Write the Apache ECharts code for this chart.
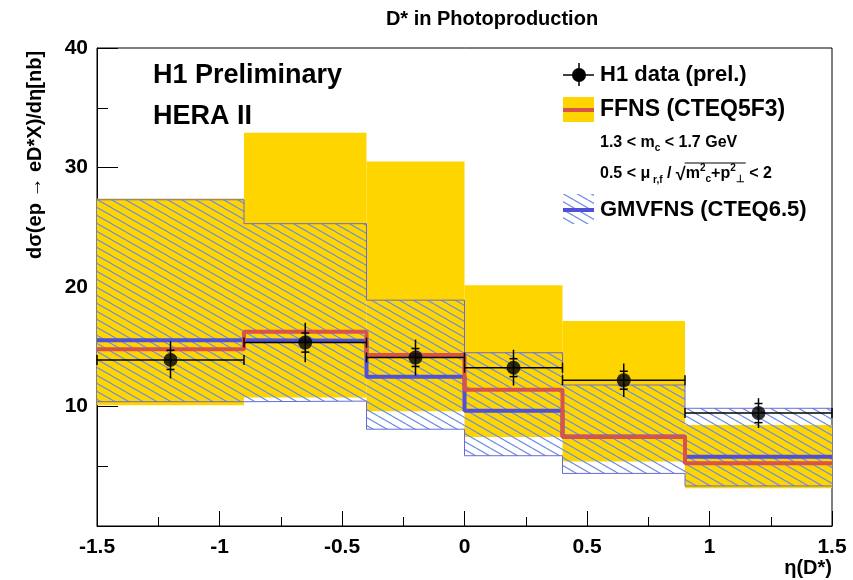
<!DOCTYPE html>
<html><head><meta charset="utf-8">
<script src="https://cdn.jsdelivr.net/npm/echarts@6/dist/echarts.min.js"></script>
<style>html,body{margin:0;padding:0;background:#fff}#c{width:853px;height:580px}</style>
</head><body><div id="c"></div>
<script>
// ---- data ----
const binEdges = [-1.5, -0.9, -0.4, 0, 0.4, 0.9, 1.5];
const dataX = [-1.2, -0.65, -0.2, 0.2, 0.65, 1.2];
const dataY = [13.9, 15.35, 14.1, 13.25, 12.2, 9.45];
const dataErrTot = [1.55, 1.65, 1.5, 1.5, 1.4, 1.25];
const dataErrStat = [0.8, 0.8, 0.75, 0.75, 0.75, 0.8];
const ffnsLo = [10.1, 10.75, 9.6, 7.45, 5.4, 3.15];
const ffnsHi = [27.4, 32.9, 30.5, 20.15, 17.15, 8.45];
const ffnsCentral = [14.8, 16.25, 14.3, 11.4, 7.45, 5.25];
const gmLo = [10.4, 10.45, 8.1, 5.88, 4.4, 3.35];
const gmHi = [27.3, 25.3, 18.9, 14.5, 11.8, 9.85];
const gmCentral = [15.55, 15.5, 12.5, 9.65, 7.5, 5.8];
const xTicks = [-1.5, -1, -0.5, 0, 0.5, 1, 1.5];
const yTicks = [10, 20, 30, 40];

// ---- styles ----
const YELLOW = '#ffd500';
const RED = '#d9534a';
const BLUE = '#5050d8';
const HATCH = '#6f8fe2';
const FONT = '"Liberation Sans", Arial, sans-serif';

function hatchCanvas() {
  const W = 14, H = 8;
  const c = document.createElement('canvas');
  c.width = W; c.height = H;
  const g = c.getContext('2d');
  g.strokeStyle = HATCH; g.lineWidth = 1.2;
  for (let k = -1; k <= 1; k++) {
    g.beginPath(); g.moveTo(0, k * H); g.lineTo(W, k * H + H); g.stroke();
  }
  return c;
}
const hatchFill = { image: hatchCanvas(), repeat: 'repeat' };

function stepData(vals) {
  return binEdges.map((e, i) => [e, vals[Math.min(i, vals.length - 1)]]);
}
function bandSeries(lo, hi, style, z) {
  return {
    type: 'custom', z: z, silent: true,
    data: lo.map((v, i) => [binEdges[i], binEdges[i + 1], v, hi[i]]),
    encode: { x: [0, 1], y: [2, 3] },
    renderItem(params, api) {
      const p0 = api.coord([api.value(0), api.value(3)]);
      const p1 = api.coord([api.value(1), api.value(2)]);
      return { type: 'rect', shape: { x: p0[0], y: p0[1], width: p1[0] - p0[0], height: p1[1] - p0[1] }, style: style };
    }
  };
}
function stepLine(vals, color, width, z) {
  return { type: 'line', step: 'end', data: stepData(vals), symbol: 'none', z: z, silent: true,
    lineStyle: { color: color, width: width }, animation: false };
}

// measured text runs for legend formulas
const mctx = document.createElement('canvas').getContext('2d');
function runs(x0, y, parts) {
  let x = x0; const els = []; const pos = [];
  for (const [t, s, dy] of parts) {
    const f = `bold ${s}px ${FONT}`;
    mctx.font = f;
    const w = mctx.measureText(t).width;
    els.push({ type: 'text', x: x, y: y + dy, style: { text: t, font: f, fill: '#000', verticalAlign: 'middle' } });
    pos.push([x, x + w]);
    x += w;
  }
  return { els, pos };
}

const line3 = runs(600, 143, [['1.3 < m', 16, 0], ['c', 10, 5], [' < 1.7 GeV', 16, 0]]);
const line4 = runs(600, 174, [['0.5 < μ', 16, 0], [' r,f', 10, 6], [' / ', 16, 0], ['√', 18, 1],
  ['m', 16, 0], ['2', 10, -6], ['c', 10, 5], ['+p', 16, 0], ['2', 10, -6], ['⊥', 10, 5], [' < 2', 16, 0]]);
const sqrtStart = line4.pos[3][1] - 1, sqrtEnd = line4.pos[9][1] + 1;

const chart = echarts.init(document.getElementById('c'), null, { renderer: 'canvas' });
chart.setOption({
  animation: false,
  backgroundColor: '#fff',
  grid: { left: 97, right: 21, top: 48, bottom: 54, show: true, borderColor: '#000', borderWidth: 1, backgroundColor: 'transparent' },
  xAxis: {
    type: 'value', min: -1.5, max: 1.5, interval: 0.5,
    axisLine: { show: true, onZero: false, lineStyle: { color: '#000', width: 1 } },
    axisTick: { show: true, inside: true, length: 15, lineStyle: { color: '#000' } },
    minorTick: { show: true, splitNumber: 2, length: 9, lineStyle: { color: '#000' } },
    splitLine: { show: false },
    axisLabel: { color: '#000', fontFamily: FONT, fontWeight: 'bold', fontSize: 21, margin: 11,
      formatter: v => xTicks.indexOf(v) >= 0 ? String(v) : '' }
  },
  yAxis: {
    type: 'value', min: 0, max: 40, interval: 10,
    axisLine: { show: true, onZero: false, lineStyle: { color: '#000', width: 1 } },
    axisTick: { show: true, inside: true, length: 21, lineStyle: { color: '#000' } },
    minorTick: { show: true, splitNumber: 2, length: 11, lineStyle: { color: '#000' } },
    splitLine: { show: false },
    axisLabel: { color: '#000', fontFamily: FONT, fontWeight: 'bold', fontSize: 21, margin: 9,
      formatter: v => yTicks.indexOf(v) >= 0 ? String(v) : '' }
  },
  series: [
    bandSeries(ffnsLo, ffnsHi, { fill: YELLOW }, 1),
    bandSeries(gmLo, gmHi, { fill: hatchFill }, 2),
    stepLine(gmHi, '#6a6ad8', 1, 3),
    stepLine(gmLo, '#6a6ad8', 1, 3),
    stepLine(gmCentral, BLUE, 4, 4),
    stepLine(ffnsCentral, RED, 4, 5),
    {
      type: 'custom', z: 6, silent: true,
      data: dataX.map((x, i) => [x, dataY[i], dataErrTot[i], dataErrStat[i], binEdges[i], binEdges[i + 1]]),
      encode: { x: 0, y: 1 },
      renderItem(params, api) {
        const x = api.value(0), y = api.value(1), et = api.value(2), es = api.value(3);
        const c = api.coord([x, y]);
        const top = api.coord([x, y + et]), bot = api.coord([x, y - et]);
        const st = api.coord([x, y + es]), sb = api.coord([x, y - es]);
        const l = api.coord([api.value(4), y]), r = api.coord([api.value(5), y]);
        const ls = { stroke: '#000', lineWidth: 1.5 };
        return { type: 'group', children: [
          { type: 'line', shape: { x1: c[0], y1: top[1], x2: c[0], y2: bot[1] }, style: ls },
          { type: 'line', shape: { x1: c[0] - 4, y1: st[1], x2: c[0] + 4, y2: st[1] }, style: ls },
          { type: 'line', shape: { x1: c[0] - 4, y1: sb[1], x2: c[0] + 4, y2: sb[1] }, style: ls },
          { type: 'line', shape: { x1: l[0], y1: c[1], x2: r[0], y2: c[1] }, style: ls },
          { type: 'line', shape: { x1: l[0], y1: c[1] - 5, x2: l[0], y2: c[1] + 5 }, style: ls },
          { type: 'line', shape: { x1: r[0], y1: c[1] - 5, x2: r[0], y2: c[1] + 5 }, style: ls }
        ]};
      }
    },
    { type: 'scatter', z: 7, silent: true, data: dataX.map((x, i) => [x, dataY[i]]),
      symbol: 'circle', symbolSize: 14, itemStyle: { color: '#000' } }
  ],
  graphic: [
    { type: 'text', x: 492, y: 19, style: { text: 'D* in Photoproduction', font: `bold 20px ${FONT}`, fill: '#000', align: 'center', verticalAlign: 'middle' } },
    { type: 'text', x: 153, y: 76, style: { text: 'H1 Preliminary', font: `bold 27px ${FONT}`, fill: '#000', verticalAlign: 'middle' } },
    { type: 'text', x: 153, y: 117, style: { text: 'HERA II', font: `bold 27px ${FONT}`, fill: '#000', verticalAlign: 'middle' } },
    { type: 'text', x: 35, y: 155, rotation: Math.PI / 2, style: { text: 'dσ(ep → eD*X)/dη[nb]', font: `bold 20px ${FONT}`, fill: '#000', align: 'center', verticalAlign: 'middle' } },
    { type: 'text', x: 832, y: 568, style: { text: 'η(D*)', font: `bold 20px ${FONT}`, fill: '#000', align: 'right', verticalAlign: 'middle' } },
    // legend: data
    { type: 'line', shape: { x1: 563, y1: 75, x2: 594, y2: 75 }, style: { stroke: '#000', lineWidth: 1.5 } },
    { type: 'line', shape: { x1: 579, y1: 63, x2: 579, y2: 86 }, style: { stroke: '#000', lineWidth: 1.5 } },
    { type: 'circle', shape: { cx: 579, cy: 75, r: 7 }, style: { fill: '#000' } },
    { type: 'text', x: 600, y: 75, style: { text: 'H1 data (prel.)', font: `bold 22px ${FONT}`, fill: '#000', verticalAlign: 'middle' } },
    // legend: FFNS
    { type: 'rect', shape: { x: 563, y: 97, width: 31, height: 25 }, style: { fill: YELLOW } },
    { type: 'line', shape: { x1: 563, y1: 110, x2: 594, y2: 110 }, style: { stroke: RED, lineWidth: 4 } },
    { type: 'text', x: 600, y: 110, style: { text: 'FFNS (CTEQ5F3)', font: `bold 23px ${FONT}`, fill: '#000', verticalAlign: 'middle' } },
    ...line3.els,
    ...line4.els,
    { type: 'line', shape: { x1: sqrtStart, y1: 163, x2: sqrtEnd, y2: 163 }, style: { stroke: '#000', lineWidth: 1 } },
    // legend: GMVFNS
    { type: 'rect', shape: { x: 563, y: 194, width: 31, height: 30 }, style: { fill: hatchFill } },
    { type: 'line', shape: { x1: 563, y1: 210, x2: 594, y2: 210 }, style: { stroke: BLUE, lineWidth: 4 } },
    { type: 'text', x: 600, y: 210, style: { text: 'GMVFNS (CTEQ6.5)', font: `bold 22px ${FONT}`, fill: '#000', verticalAlign: 'middle' } }
  ]
});
</script>
</body></html>
